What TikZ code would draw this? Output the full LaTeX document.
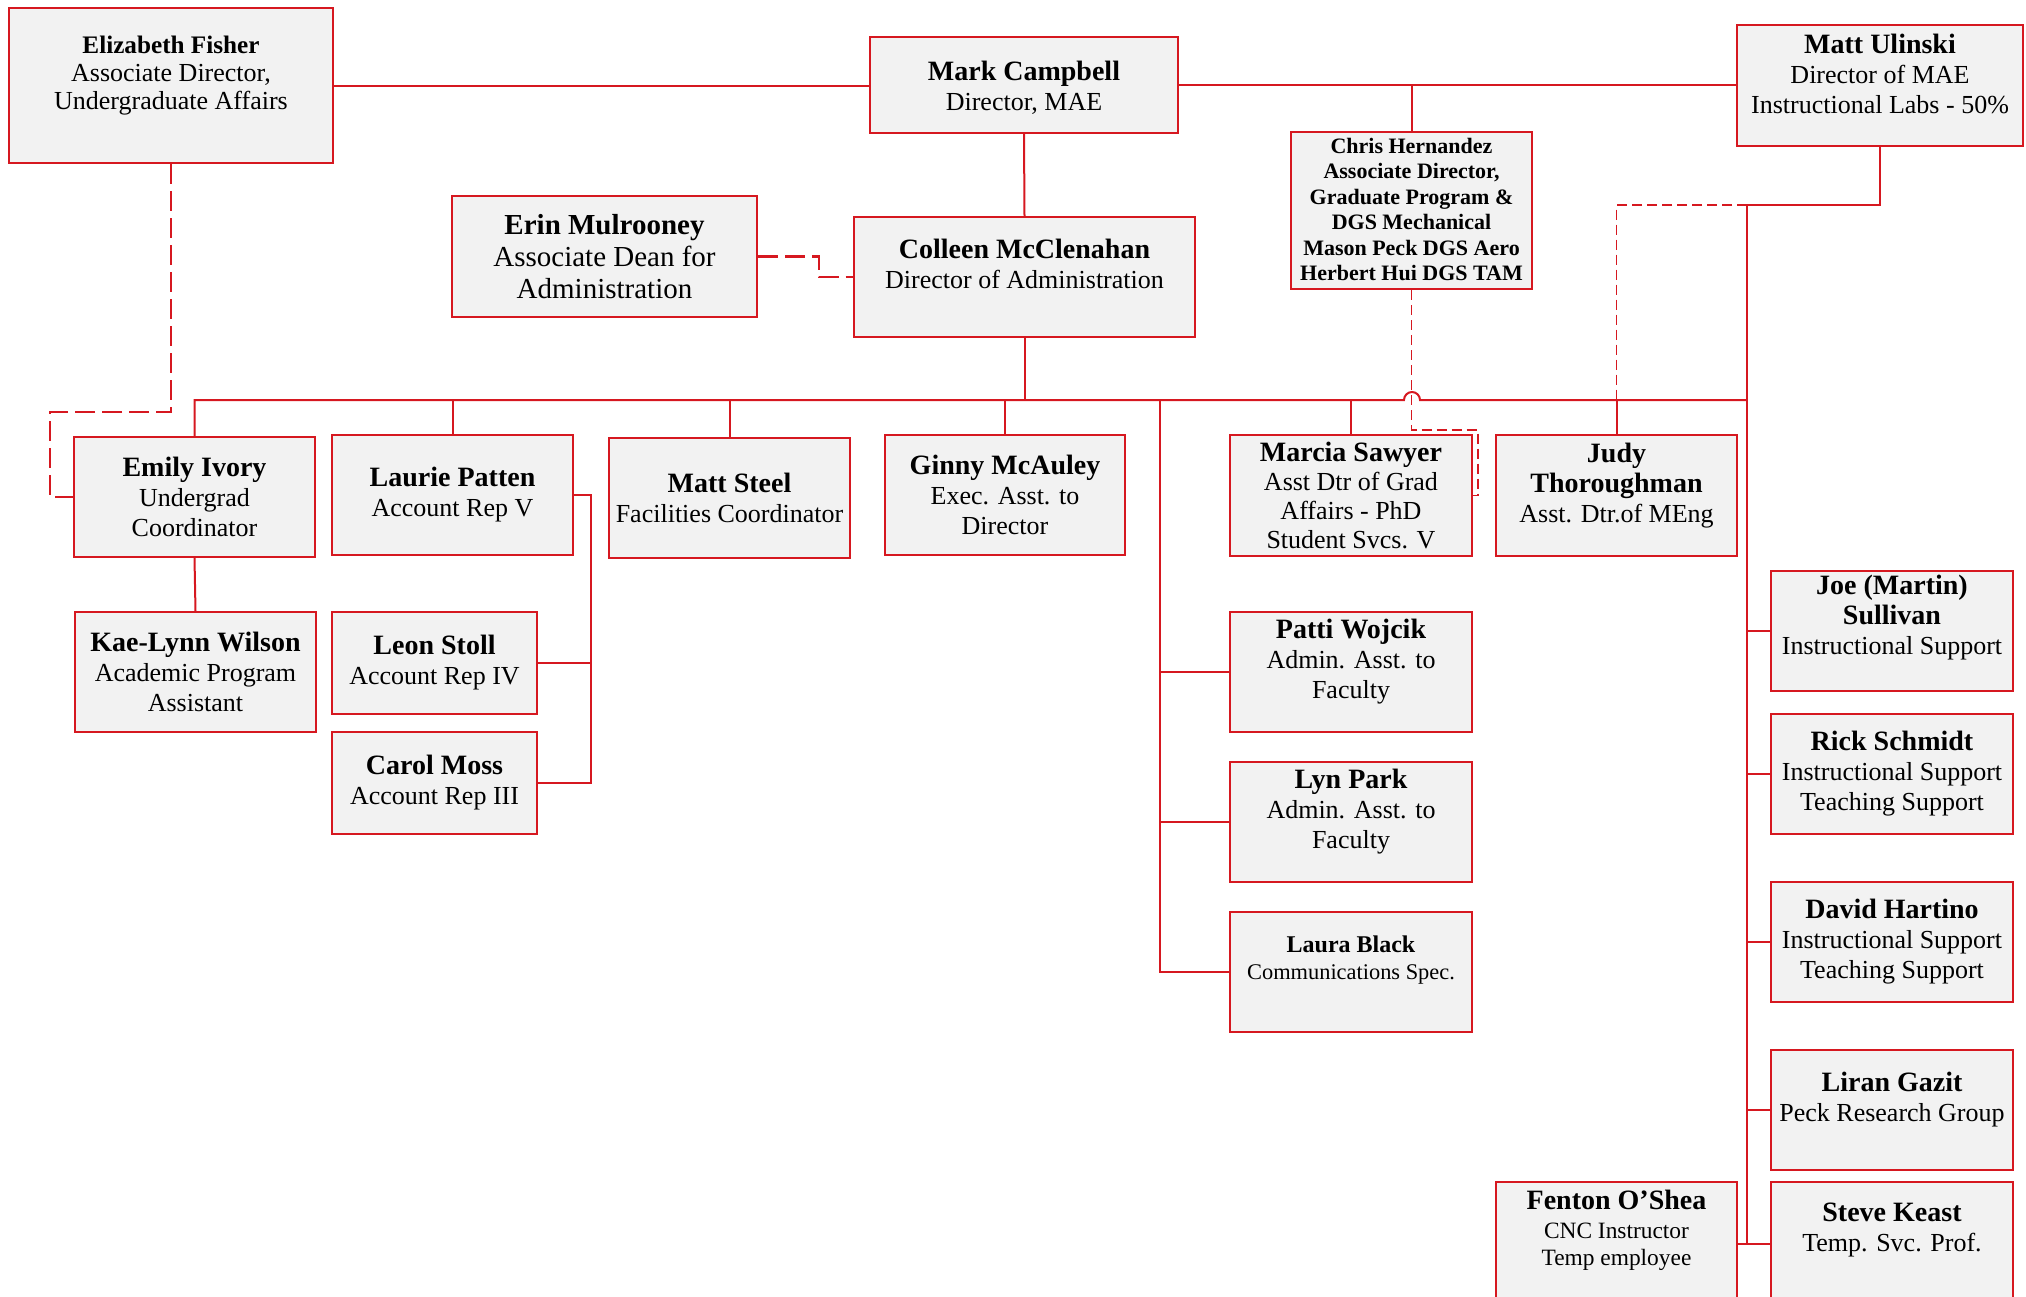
\documentclass[tikz,border=0pt]{standalone}
\usepackage{fontspec}
\setmainfont{Liberation Serif}
\usetikzlibrary{fit}
\definecolor{orgred}{RGB}{214,24,32}
\definecolor{boxfill}{RGB}{242,242,242}
\tikzset{
  obox/.style={draw=orgred, fill=boxfill, line width=1pt, inner sep=0pt},
  otext/.style={align=center, inner sep=0pt, text=black, font=\fontsize{13}{15}\selectfont},
  conn/.style={draw=orgred, line width=1pt},
  dconn/.style={draw=orgred, line width=1.2pt, dash pattern=on 10pt off 3.5pt},
  tconn/.style={draw=orgred, line width=0.8pt, dash pattern=on 5pt off 2.5pt},
}
\newcommand\nm[1]{{\fontsize{14}{15}\selectfont\bfseries #1}}
% [text opts]{name}{corner1}{corner2}{text yshift}{text}
\newcommand\obox[6][]{%
  \node[obox, fit={#3 #4}] (#2) {};
  \node[otext,#1] (#2-t) at ([yshift=#5]#2.center) {#6};}
\begin{document}
\begin{tikzpicture}[x=0.5pt,y=-0.5pt]
\useasboundingbox (0,0) rectangle (2026,1297);
\clip (0,0) rectangle (2026,1297);

% ---- boxes ----
\obox[font=\fontsize{13}{14}\selectfont]{ef}{(9,8)}{(333,163)}{5pt}{{\fontsize{12.6}{14}\selectfont\bfseries Elizabeth Fisher}\\Associate Director,\\Undergraduate Affairs}
\obox{mc}{(870,37)}{(1178,133)}{-1.5pt}{\nm{Mark Campbell}\\Director, MAE}
\obox{mu}{(1737,25)}{(2023,146)}{6pt}{\nm{Matt Ulinski}\\Director of MAE\\Instructional Labs - 50\%}
\obox[font=\fontsize{11}{12.7}\selectfont\bfseries]{ch}{(1291,132)}{(1532,289)}{0.5pt}{Chris Hernandez\\Associate Director,\\Graduate Program \&\\DGS Mechanical\\Mason Peck DGS Aero\\Herbert Hui DGS TAM}
\obox[font=\fontsize{14.5}{16}\selectfont]{erin}{(452,196)}{(757,317)}{0pt}{\textbf{Erin Mulrooney}\\Associate Dean for\\Administration}
\obox{co}{(854,217)}{(1195,337)}{6.5pt}{\nm{Colleen McClenahan}\\Director of Administration}

\obox{emily}{(74,437)}{(315,557)}{0pt}{\nm{Emily Ivory}\\Undergrad\\Coordinator}
\obox{laurie}{(332,435)}{(573,555)}{0pt}{\nm{Laurie Patten}\\Account Rep V}
\obox{steel}{(609,438)}{(850,558)}{0pt}{\nm{Matt Steel}\\Facilities Coordinator}
\obox{ginny}{(885,435)}{(1125,555)}{0pt}{\nm{Ginny McAuley}\\Exec. Asst. to\\Director}
\obox[font=\fontsize{13}{14.5}\selectfont]{marcia}{(1230,435)}{(1472,556)}{0pt}{\nm{Marcia Sawyer}\\Asst Dtr of Grad\\Affairs - PhD\\Student Svcs. V}
\obox{judy}{(1496,435)}{(1737,556)}{5pt}{\nm{Judy}\\\nm{Thoroughman}\\Asst. Dtr.of MEng}

\obox{kae}{(75,612)}{(316,732)}{0pt}{\nm{Kae-Lynn Wilson}\\Academic Program\\Assistant}
\obox{leon}{(332,612)}{(537,714)}{0pt}{\nm{Leon Stoll}\\Account Rep IV}
\obox{carol}{(332,732)}{(537,834)}{0pt}{\nm{Carol Moss}\\Account Rep III}

\obox{patti}{(1230,612)}{(1472,732)}{5pt}{\nm{Patti Wojcik}\\Admin. Asst. to\\Faculty}
\obox{lyn}{(1230,762)}{(1472,882)}{5pt}{\nm{Lyn Park}\\Admin. Asst. to\\Faculty}
\obox[font=\fontsize{11.2}{13.5}\selectfont]{laura}{(1230,912)}{(1472,1032)}{6pt}{{\fontsize{12}{13.5}\selectfont\bfseries Laura Black}\\Communications Spec.}

\obox{joe}{(1771,571)}{(2013,691)}{6.5pt}{\nm{Joe (Martin)}\\\nm{Sullivan}\\Instructional Support}
\obox{rick}{(1771,714)}{(2013,834)}{0pt}{\nm{Rick Schmidt}\\Instructional Support\\Teaching Support}
\obox{david}{(1771,882)}{(2013,1002)}{0pt}{\nm{David Hartino}\\Instructional Support\\Teaching Support}
\obox{liran}{(1771,1050)}{(2013,1170)}{5pt}{\nm{Liran Gazit}\\Peck Research Group}
\obox[font=\fontsize{11.7}{13.5}\selectfont]{fenton}{(1496,1182)}{(1737,1305)}{6.5pt}{\nm{Fenton O’Shea}\\[1pt]CNC Instructor\\Temp employee}
\obox{steve}{(1771,1182)}{(2013,1305)}{7pt}{\nm{Steve Keast}\\Temp. Svc. Prof.}

% ---- helper coordinates ----
\coordinate (busL) at (195,400);
\coordinate (busR) at (1747,400);
\coordinate (hop) at (1412,400);
\coordinate (adm) at (1160,400);
\coordinate (lp) at (591,495);
\coordinate (tr) at (1747,205);

% ---- top level ----
\draw[conn] (ef.east) -- (ef.east -| mc.west);
\draw[conn] (mc.east) -- (mc.east -| mu.west);
\draw[conn] (ch.north |- mc.east) -- (ch.north);
\draw[conn] (mc.south) -- (co.north);
\draw[dconn] (erin.east) -- ++(61,0) |- (co.west);

% ---- Colleen bus ----
\draw[conn] (co.south) -- (co.south |- busL);
\draw[conn] (emily.north) -- (emily.north |- busL) -- ([xshift=-4pt]hop)
   arc[start angle=180, end angle=360, radius=8] -- (busR);
\draw[conn] (laurie.north |- busL) -- (laurie.north);
\draw[conn] (steel.north |- busL) -- (steel.north);
\draw[conn] (ginny.north |- busL) -- (ginny.north);
\draw[conn] (marcia.north |- busL) -- (marcia.north);
\draw[conn] (judy.north |- busL) -- (judy.north);

% admin assistants
\draw[conn] (adm) |- (laura.west);
\draw[conn] (adm |- patti.west) -- (patti.west);
\draw[conn] (adm |- lyn.west) -- (lyn.west);

% Emily -> Kae-Lynn
\draw[conn] (emily.south) -- (kae.north);
% Laurie -> Leon, Carol
\draw[conn] (laurie.east) -- (lp) |- (carol.east);
\draw[conn] (leon.east) -- (lp |- leon.east);

% dotted-line reports
\draw[dconn] (ef.south) |- (50,412) |- (emily.west);
\draw[tconn] (ch.south) |- (1478,430) |- (marcia.east);

% ---- Ulinski trunk ----
\draw[conn] (mu.south) |- (tr) -- (tr |- steve.west);
\draw[tconn] (tr) -| (judy.north |- busL);
\draw[conn] (tr |- joe.west) -- (joe.west);
\draw[conn] (tr |- rick.west) -- (rick.west);
\draw[conn] (tr |- david.west) -- (david.west);
\draw[conn] (tr |- liran.west) -- (liran.west);
\draw[conn] (fenton.east) -- (steve.west);
\end{tikzpicture}
\end{document}
